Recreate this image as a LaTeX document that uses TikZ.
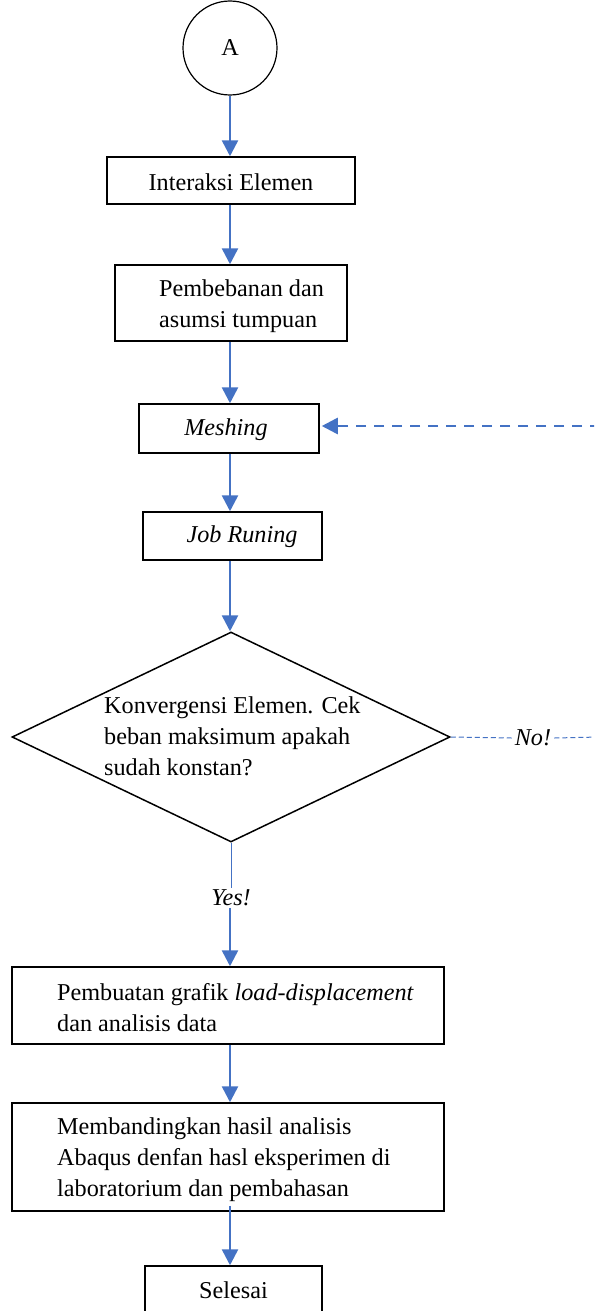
\documentclass[tikz,border=0pt]{standalone}
\usepackage{fontspec}
\setmainfont{Liberation Serif}
\usetikzlibrary{arrows.meta,shapes.geometric}
\definecolor{flowblue}{HTML}{4472C4}
\begin{document}
\begin{tikzpicture}[x=1pt,y=-1pt,
  every node/.style={font=\fontsize{24.2}{31}\selectfont},
  box/.style={draw=black,line width=1.5pt,rectangle,inner sep=0pt},
  txt/.style={inner sep=0pt,align=left},
  arr/.style={draw=flowblue,line width=2.6pt,-{Triangle[width=16pt,length=16pt]}},
  dasharr/.style={draw=flowblue,line width=2.6pt,dash pattern=on 10pt off 8pt,-{Triangle[width=16pt,length=16pt]}},
  thinline/.style={draw=flowblue,line width=1pt},
  thindash/.style={draw=flowblue,line width=1pt,dash pattern=on 5pt off 3pt}]
\useasboundingbox (0,0) rectangle (594,1311);
\clip (0,0) rectangle (594,1311);
\fill[white] (0,0) rectangle (594,1311);

\node[draw=black,line width=1.2pt,circle,minimum size=94pt,inner sep=0pt] (A) at (230,48) {A};

\node[box,minimum width=248pt,minimum height=47pt] (b1) at (231,180.5) {};
\node[txt] (t1) at (231,182) {Interaksi Elemen};

\node[box,minimum width=232pt,minimum height=76pt] (b2) at (231,303) {};
\node[txt,anchor=west] (t2) at (159,306) {Pembebanan dan\\asumsi tumpuan};

\node[box,minimum width=180pt,minimum height=49pt] (b3) at (229,428.5) {};
\node[txt] (t3) at (226,430) {\itshape Meshing};

\node[box,minimum width=179pt,minimum height=48pt] (b4) at (232.5,536) {};
\node[txt] (t4) at (242,537) {\itshape Job Runing};

\node[draw=black,line width=1.5pt,diamond,minimum width=438pt,minimum height=210pt,inner sep=0pt] (d) at (231,737) {};
\node[txt,anchor=west] (td) at (104,736) {Konvergensi Elemen. Cek\\beban maksimum apakah\\sudah konstan?};

\node[inner sep=2pt] (yes) at (231,898) {\itshape Yes!};
\node[inner sep=3pt,fill=white] (no) at (533,738) {\itshape No!};
\coordinate (east) at (600,737);
\coordinate (back) at (600,426);

\node[box,minimum width=432pt,minimum height=77pt] (b5) at (228,1005.5) {};
\node[txt,anchor=west] (t5) at (57,1008) {Pembuatan grafik \textit{load-displacement}\\dan analisis data};

\node[box,minimum width=432pt,minimum height=108pt] (b6) at (228,1157) {};
\node[txt,anchor=west] (t6) at (57,1160) {Membandingkan hasil analisis\\Abaqus denfan hasl eksperimen di\\laboratorium dan pembahasan};

\node[box,minimum width=177pt,minimum height=60pt] (b7) at (233.5,1296) {};
\node[txt] (t7) at (233.5,1290) {Selesai};

\draw[arr] (A.south) -- (A.south |- b1.north);
\draw[arr] (A.south |- b1.south) -- (A.south |- b2.north);
\draw[arr] (A.south |- b2.south) -- (A.south |- b3.north);
\draw[arr] (A.south |- b3.south) -- (A.south |- b4.north);
\draw[arr] (A.south |- b4.south) -- (A.south |- d.north);
\draw[thinline] (d.south) -- (yes.north);
\draw[arr] (A.south |- yes.south) -- (A.south |- b5.north);
\draw[arr] (A.south |- b5.south) -- (A.south |- b6.north);
\draw[arr] ([yshift=6pt]A.south |- b6.south) -- (A.south |- b7.north);
\draw[thindash] (d.east) -- (no.west);
\draw[thindash] (no.east) -- (east);
\draw[dasharr] (back) -- ([xshift=2pt]back -| b3.east);
\end{tikzpicture}
\end{document}
